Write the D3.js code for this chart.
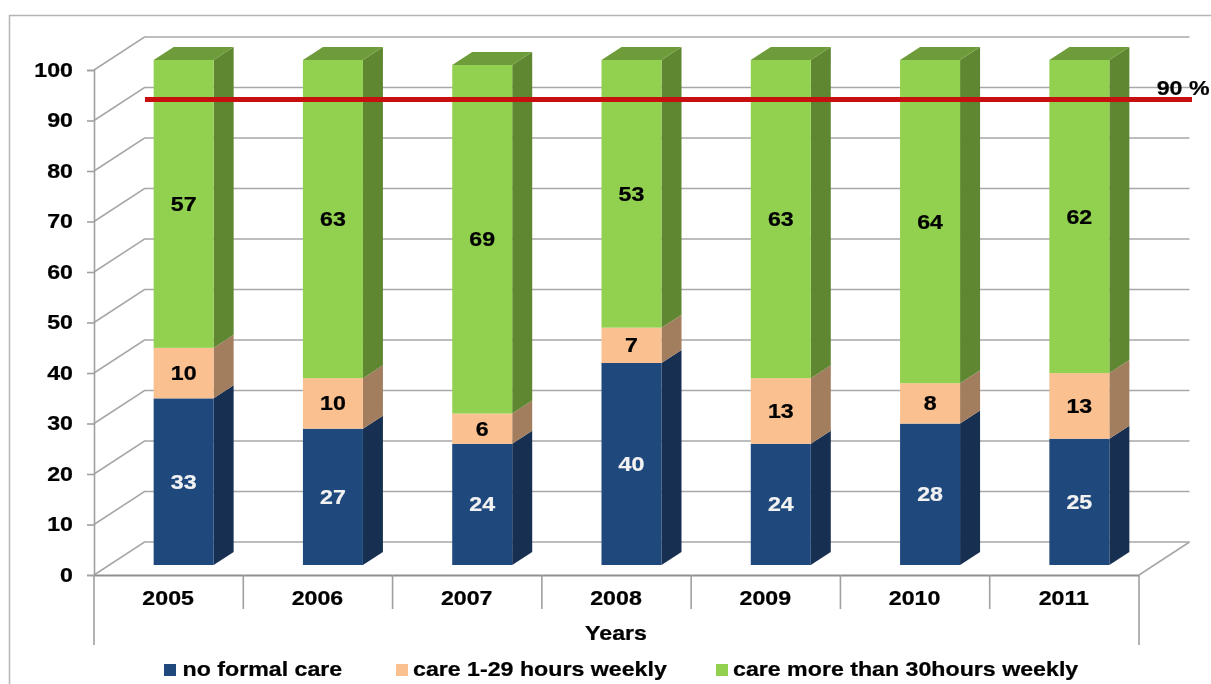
<!DOCTYPE html>
<html>
<head>
<meta charset="utf-8">
<script src="https://cdn.jsdelivr.net/npm/d3@7"></script>
<style>
  html, body { margin: 0; padding: 0; background: #fff; overflow: hidden; }
  svg { display: block; filter: blur(0.35px); }
  text { font-family: "Liberation Sans", Arial, sans-serif; font-weight: bold; font-size: 20.7px; stroke: currentColor; stroke-width: 0.25px; }
</style>
</head>
<body>
<div id="wrapper"></div>
<script>
// # Data
const years = ["2005", "2006", "2007", "2008", "2009", "2010", "2011"];
const noFormalCare = [33, 27, 24, 40, 24, 28, 25];
const care1to29 = [10, 10, 6, 7, 13, 8, 13];
const care30plus = [57, 63, 69, 53, 63, 64, 62];
const seriesNames = ["no formal care", "care 1-29 hours weekly", "care more than 30hours weekly"];
const yTicks = [0, 10, 20, 30, 40, 50, 60, 70, 80, 90, 100];
const targetValue = 90;
const targetLabel = "90 %";

const colors = [
  { front: "#1f497d", side: "#172f50", top: "#1a3d68", text: "#f2f2f2" },
  { front: "#fac090", side: "#a27d5e", top: "#c89a73", text: "#000" },
  { front: "#92d050", side: "#5f8731", top: "#6f9c3a", text: "#000" },
];

// # Dimensions
const width = 1211;
const height = 684;
const stretch = 1.12; // the picture's text is a bit wider than the font

const wall = { dx: 50.5, dy: -33 };   // depth of the chart box
const barDepth = { dx: 20, dy: -13 }; // depth of a bar
const barShift = { dx: 15, dy: -10 }; // bars stand inside the box
const barWidth = 60;

const svg = d3.select("#wrapper").append("svg")
  .attr("width", width)
  .attr("height", height);

// # Scales
const xScale = d3.scaleBand().domain(years).range([94, 1139]);
const yScale = d3.scaleLinear().domain([0, 100]).range([575, 70]);
const [xLeft, xRight] = xScale.range();
const yBase = yScale(0);

const stacked = d3.stack().keys([0, 1, 2]).value((d, k) => d[k])(
  years.map((y, i) => [noFormalCare[i], care1to29[i], care30plus[i]])
);

const wide = (sel, x, y) => sel
  .attr("color", sel.attr("fill"))
  .attr("transform", `translate(${x},${y}) scale(${stretch},1)`);

// # Outer frame
svg.append("path")
  .attr("d", `M9.5,${height}V15.5H${width}`)
  .attr("fill", "none")
  .attr("stroke", "#b5b5b5")
  .attr("stroke-width", 1.5);

// # Gridlines on the walls
const grid = svg.append("g").attr("fill", "none").attr("stroke", "#a8a8a8").attr("stroke-width", 1.6);
grid.selectAll("path")
  .data(yTicks)
  .join("path")
  .attr("d", d => `M${xLeft},${yScale(d)}l${wall.dx},${wall.dy}H${xRight + wall.dx}`);
grid.append("path")
  .attr("d", `M${xRight},${yBase}l${wall.dx},${wall.dy}`);

// # Axes
const yAxis = svg.append("g")
  .attr("transform", `translate(${xLeft},0)`)
  .call(d3.axisLeft(yScale).tickValues(yTicks).tickSize(7).tickPadding(8));
yAxis.select(".domain").attr("stroke", "#a0a0a0").attr("stroke-width", 1.6);
yAxis.selectAll(".tick line").attr("stroke", "#a0a0a0").attr("stroke-width", 1.6);
yAxis.selectAll(".tick text")
  .attr("fill", "#000")
  .attr("color", "#000")
  .attr("x", 0)
  .attr("dy", 0)
  .attr("text-anchor", "end")
  .attr("dominant-baseline", "central")
  .attr("transform", `translate(-21,-1) scale(${stretch},1)`);

const xAxis = svg.append("g")
  .attr("transform", `translate(0,${yBase})`)
  .call(d3.axisBottom(xScale).tickSize(0).tickPadding(14));
xAxis.select(".domain").attr("stroke", "#909090").attr("stroke-width", 1.8);
xAxis.selectAll(".tick text")
  .attr("fill", "#000")
  .attr("y", 0)
  .attr("dy", 0)
  .each(function() {
    wide(d3.select(this), -0.5, 29.5);
  });

// category separators, the outer two run down past the axis title
const separators = d3.range(years.length + 1).map(i => xLeft + i * xScale.step());
svg.append("g")
  .attr("stroke", "#a0a0a0")
  .attr("stroke-width", 1.6)
  .selectAll("line")
  .data(separators)
  .join("line")
  .attr("x1", d => d)
  .attr("x2", d => d)
  .attr("y1", yBase)
  .attr("y2", (d, i) => yBase + (i === 0 || i === years.length ? 70 : 34));

// # Bars
const barX = d => xScale(d) + (xScale.bandwidth() - barWidth) / 2 + barShift.dx;
const barY = v => yScale(v) + barShift.dy;

const barGroups = svg.append("g").selectAll("g")
  .data(years)
  .join("g");

barGroups.each(function(year, i) {
  const g = d3.select(this);
  const x = barX(year);

  stacked.forEach((layer, s) => {
    const [v0, v1] = layer[i];
    const c = colors[s];
    // side face
    g.append("path")
      .attr("d", `M${x + barWidth},${barY(v0)}l${barDepth.dx},${barDepth.dy}V${barY(v1) + barDepth.dy}l${-barDepth.dx},${-barDepth.dy}Z`)
      .attr("fill", c.side);
    // front face
    g.append("rect")
      .attr("x", x)
      .attr("y", barY(v1))
      .attr("width", barWidth)
      .attr("height", barY(v0) - barY(v1))
      .attr("fill", c.front);
    // only the topmost segment shows its lid
    if (s === stacked.length - 1) {
      g.append("path")
        .attr("d", `M${x},${barY(v1)}l${barDepth.dx},${barDepth.dy}h${barWidth}l${-barDepth.dx},${-barDepth.dy}Z`)
        .attr("fill", c.top);
    }
  });
});

// # Target line
const targetY = yScale(targetValue) - 21;
svg.append("line")
  .attr("x1", xLeft + 51)
  .attr("x2", xRight + 53)
  .attr("y1", targetY)
  .attr("y2", targetY)
  .attr("stroke", "#c80f0f")
  .attr("stroke-width", 4.8);

// # Value labels
barGroups.each(function(year, i) {
  const g = d3.select(this);
  stacked.forEach((layer, s) => {
    const [v0, v1] = layer[i];
    const label = g.append("text")
      .attr("text-anchor", "middle")
      .attr("dominant-baseline", "central")
      .attr("fill", colors[s].text)
      .text(v1 - v0);
    wide(label, barX(year) + barWidth / 2, barY((v0 + v1) / 2));
  });
});

// # Target label, axis title
wide(svg.append("text").attr("text-anchor", "end").attr("fill", "#000").text(targetLabel), 1209.5, 95);
wide(svg.append("text").attr("text-anchor", "middle").attr("fill", "#000").text("Years"), 616, 640);

// # Legend
const legendX = [164, 396, 716];
const legendTextX = [18.5, 17, 17];
const legend = svg.append("g").selectAll("g")
  .data(seriesNames)
  .join("g")
  .attr("transform", (d, i) => `translate(${legendX[i]},664)`);
legend.append("rect")
  .attr("width", 12)
  .attr("height", 12)
  .attr("fill", (d, i) => colors[i].front);
legend.each(function(d, i) {
  wide(d3.select(this).append("text").attr("fill", "#000").text(d), legendTextX[i], 12);
});
</script>
</body>
</html>
